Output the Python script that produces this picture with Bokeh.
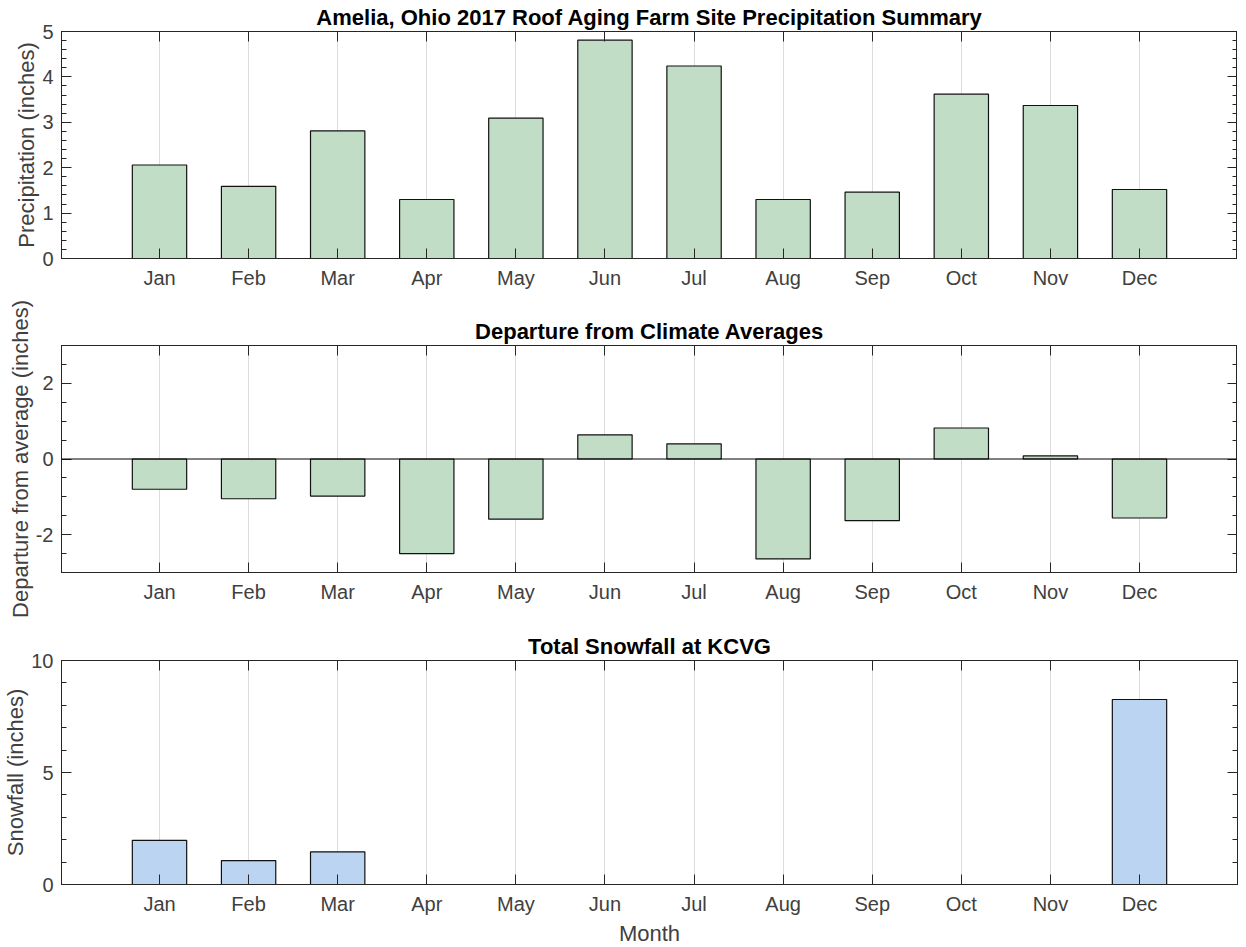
from bokeh.plotting import figure
from bokeh.models import FixedTicker, LinearAxis, Range1d, Span, ColumnDataSource
from bokeh.layouts import column
from bokeh.embed import file_html
from bokeh.resources import INLINE

# ---- data ----
months = ["Jan", "Feb", "Mar", "Apr", "May", "Jun", "Jul", "Aug", "Sep", "Oct", "Nov", "Dec"]
precip = [2.06, 1.59, 2.81, 1.30, 3.09, 4.81, 4.24, 1.30, 1.46, 3.62, 3.37, 1.52]
departure = [-0.80, -1.05, -0.98, -2.50, -1.59, 0.64, 0.40, -2.64, -1.63, 0.82, 0.08, -1.56]
snowfall = [1.97, 1.07, 1.46, 0, 0, 0, 0, 0, 0, 0, 0, 8.26]

titles = ["Amelia, Ohio 2017 Roof Aging Farm Site Precipitation Summary",
          "Departure from Climate Averages",
          "Total Snowfall at KCVG"]
ylabels = ["Precipitation (inches)", "Departure from average (inches)", "Snowfall (inches)"]
yticks = [[0, 1, 2, 3, 4, 5], [-2, 0, 2], [0, 5, 10]]
ytick_text = [["0", "1", "2", "3", "4", "5"], ["-2", "0", "2"], ["0", "5", "10"]]
yminor = [[i * 0.2 for i in range(26)], [-3 + i * 0.5 for i in range(13)], list(range(11))]
yranges = [(0, 5), (-3, 3), (0, 10)]

GREEN = "#c2ddc6"
BLUE = "#bad4f1"
FONT = "Liberation Sans"
AX = "#262626"
TXT = "#404040"

xpos = list(range(1, len(months) + 1))
overrides = {i: m for i, m in zip(xpos, months)}

frame_h = [227, 227, 224]
tops = [31, 49, 42]
bottoms = [38, 46, 55]


def style_axis(ax, ticker, labels=True):
    ax.ticker = ticker
    ax.axis_line_color = AX
    ax.axis_line_width = 1
    ax.major_tick_line_color = AX
    ax.minor_tick_line_color = AX
    ax.major_tick_in = 10
    ax.major_tick_out = 0
    ax.minor_tick_in = 5
    ax.minor_tick_out = 0
    if labels:
        ax.major_label_text_font = FONT
        ax.major_label_text_font_size = "20px"
        ax.major_label_text_color = TXT
        ax.major_label_standoff = 8
        ax.axis_label_text_font = FONT
        ax.axis_label_text_font_size = "22px"
        ax.axis_label_text_font_style = "normal"
        ax.axis_label_text_color = TXT
        ax.axis_label_standoff = 0
    else:
        ax.major_label_text_font_size = "1px"
        ax.major_label_text_color = None
        ax.major_label_standoff = 0
        ax.axis_label = None


figs = []
for k, (vals, color) in enumerate([(precip, GREEN), (departure, GREEN), (snowfall, BLUE)]):
    p = figure(frame_width=1176, frame_height=frame_h[k], output_backend="svg", toolbar_location=None,
               x_range=Range1d(-0.1, 13.1), y_range=Range1d(*yranges[k]),
               min_border_left=59, min_border_right=2,
               min_border_top=tops[k], min_border_bottom=bottoms[k],
               title=titles[k])
    p.title.align = "center"
    p.title.text_font = FONT
    p.title.text_font_size = "22px"
    p.title.text_font_style = "bold"
    p.title.text_color = "#000000"
    p.title.standoff = 3

    p.outline_line_color = AX
    p.outline_line_width = 1
    p.background_fill_color = "white"
    p.border_fill_color = "white"

    xt = FixedTicker(ticks=xpos, minor_ticks=[])
    yt = FixedTicker(ticks=yticks[k], minor_ticks=yminor[k])

    style_axis(p.xaxis[0], xt)
    p.xaxis[0].major_label_overrides = overrides
    p.xaxis[0].major_label_standoff = 8
    style_axis(p.yaxis[0], yt)
    p.yaxis[0].major_label_overrides = {t: s for t, s in zip(yticks[k], ytick_text[k])}
    p.yaxis[0].axis_label = ylabels[k]
    if k == 2:
        p.xaxis[0].axis_label = "Month"
        p.xaxis[0].axis_label_standoff = 3

    top_ax = LinearAxis()
    style_axis(top_ax, xt, labels=False)
    p.add_layout(top_ax, "above")
    right_ax = LinearAxis()
    style_axis(right_ax, yt, labels=False)
    p.add_layout(right_ax, "right")

    p.xgrid.ticker = xt
    p.xgrid.grid_line_color = "#dcdcdc"
    p.xgrid.grid_line_width = 1
    p.ygrid.grid_line_color = None

    src = ColumnDataSource(dict(x=xpos, top=vals))
    p.vbar(x="x", top="top", bottom=0, width=0.61, source=src,
           fill_color=color, line_color="#111111", line_width=1.2)

    if k == 1:
        p.add_layout(Span(location=0, dimension="width", line_color="#000000", line_width=1))

    figs.append(p)

layout = column(*figs, spacing=0, styles={"margin-bottom": "-40px"})
open("out.html", "w").write(file_html(layout, INLINE))
